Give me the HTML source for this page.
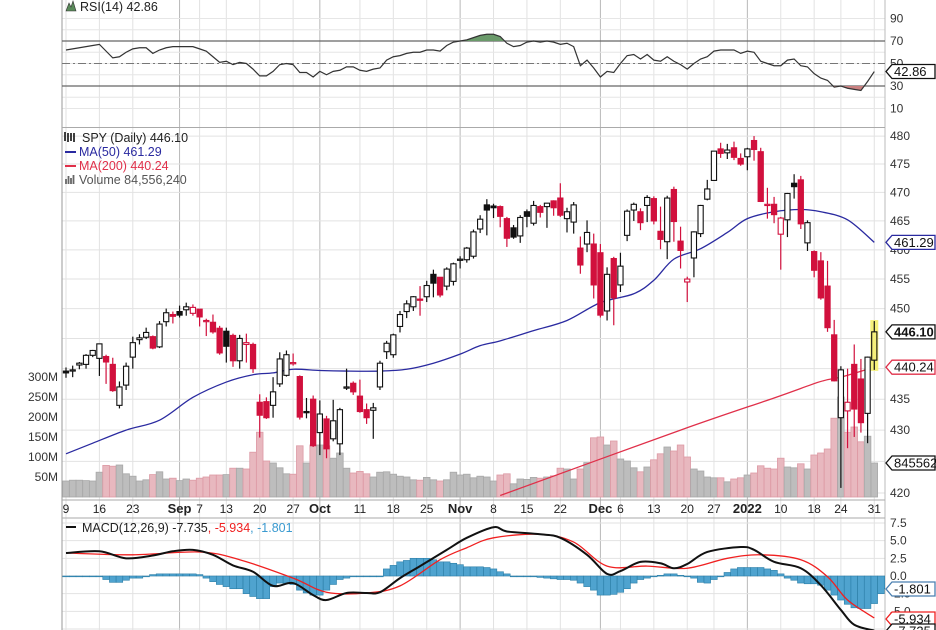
<!DOCTYPE html>
<html><head><meta charset="utf-8"><style>
body{margin:0;background:#fff;}
svg{display:block;font-family:"Liberation Sans",sans-serif;}
</style></head><body>
<svg id="c" width="936" height="630" viewBox="0 0 936 630"></svg>
<script>
// ---- data ----
const dateLabels=["9","16","23","Sep","7","13","20","27","Oct","11","18","25","Nov","8","15","22","Dec","6","13","20","27","2022","10","18","24","31"];
const dateIdx=[0,5,10,17,20,24,29,34,38,44,49,54,59,64,69,74,80,83,88,93,97,102,107,112,116,121];
const dateBold=[0,0,0,1,0,0,0,0,1,0,0,0,1,0,0,0,1,0,0,0,0,1,0,0,0,0];
const opens=[439.6,439.7,440.6,440.7,442.2,441.7,442.0,440.7,434.0,437.3,441.9,444.8,445.2,445.3,443.6,447.8,449.0,449.5,449.8,449.2,449.9,448.0,447.7,446.7,446.2,445.5,441.3,444.0,444.0,434.5,434.6,434.0,437.5,438.9,440.8,438.7,433.0,435.0,429.6,431.8,428.6,427.8,436.8,437.6,435.5,433.3,433.2,437.0,442.8,442.3,447.0,449.5,450.3,451.6,452.0,455.8,455.3,453.8,454.6,458.2,458.3,458.9,463.6,467.8,467.6,467.5,465.4,463.8,462.4,466.6,464.6,467.5,467.5,468.5,469.0,465.4,464.8,460.3,461.0,461.0,459.5,449.6,458.5,454.0,462.5,466.9,466.6,467.7,468.9,463.2,461.4,470.5,461.5,454.5,458.6,462.8,468.8,472.1,477.7,477.0,477.9,476.0,476.3,479.2,477.2,467.9,467.9,462.7,465.2,471.6,472.2,461.2,459.7,458.1,453.8,445.6,432.0,433.1,440.7,438.3,432.7,441.4];
const highs=[440.2,440.5,441.1,442.4,443.1,444.1,442.3,441.8,437.9,441.0,445.3,445.7,446.8,445.5,447.9,450.0,449.5,450.5,451.0,450.7,449.9,448.3,449.0,447.1,446.8,445.8,445.6,445.8,444.3,435.8,435.3,438.6,442.7,443.0,442.5,438.9,435.2,435.6,434.8,432.3,434.9,433.6,440.0,437.9,438.2,434.3,434.4,441.3,444.6,445.8,449.6,451.4,452.1,453.8,454.7,456.6,455.3,457.0,457.8,458.9,460.5,463.5,466.0,468.8,468.0,467.7,465.7,464.3,466.0,467.0,468.5,467.8,468.1,468.6,471.6,467.3,468.3,462.3,465.1,462.8,461.0,457.0,458.8,459.5,467.0,468.2,467.2,469.5,469.3,467.5,469.4,471.0,464.0,455.4,463.2,467.8,472.2,477.3,478.8,478.6,479.0,476.9,477.9,480.0,477.9,470.8,469.2,465.7,469.9,473.2,472.9,465.1,459.9,459.6,458.1,448.1,440.4,440.0,444.0,441.6,442.0,447.9];
const lows=[438.5,438.6,439.9,440.0,441.9,438.8,437.5,436.2,433.5,436.5,440.0,444.0,444.9,443.2,443.4,447.0,447.5,448.5,448.8,448.8,447.0,445.4,445.8,442.3,441.0,440.3,440.0,441.0,439.3,428.8,431.8,432.0,437.0,438.7,440.5,431.7,431.9,427.3,426.0,425.5,428.2,426.0,436.5,435.7,432.8,431.0,428.6,436.5,441.6,441.8,446.0,448.4,449.6,448.8,451.1,451.9,451.9,453.1,453.9,456.8,457.8,458.5,462.9,462.5,465.5,463.9,460.5,461.9,461.2,463.9,464.2,465.6,463.8,465.9,465.7,463.0,462.8,455.9,459.6,451.7,448.5,448.0,447.2,452.8,461.5,465.0,463.4,464.8,464.4,460.1,458.4,461.4,456.8,451.1,455.3,462.2,468.6,472.0,476.1,475.9,475.7,474.7,473.9,475.6,468.3,465.4,464.6,456.6,462.2,468.9,463.6,459.8,455.3,451.5,446.1,437.9,420.8,427.1,428.9,429.6,427.9,439.8];
const closes=[439.3,439.8,440.9,442.2,443.0,444.1,441.1,436.4,437.0,440.4,444.3,445.1,446.0,443.4,447.4,449.3,448.7,448.9,450.3,450.2,448.6,448.0,446.1,442.6,443.7,441.3,445.0,444.3,440.0,432.4,432.0,436.2,441.6,442.3,441.0,432.1,432.8,427.5,432.6,427.0,431.5,433.3,437.0,436.2,433.0,432.0,433.6,440.9,444.2,445.6,449.0,450.8,452.0,451.5,453.9,454.3,452.3,456.7,457.6,458.4,460.3,463.1,465.3,466.9,467.3,465.8,462.0,462.2,465.6,465.8,467.7,466.5,468.1,467.3,466.0,466.6,467.8,457.4,463.0,454.0,448.9,455.8,451.8,457.2,466.7,467.9,464.7,469.1,465.0,461.8,469.0,464.9,459.9,455.0,463.1,467.7,470.6,477.3,476.9,477.5,476.2,475.0,477.7,477.6,468.4,467.9,466.1,465.5,469.8,471.0,464.5,464.7,456.5,451.8,446.8,438.0,439.8,434.5,433.4,431.2,441.9,446.1];
const volumes=[40,42,42,41,40,62,79,77,80,58,52,40,43,56,63,45,47,41,45,42,47,50,55,55,56,72,72,70,112,162,90,85,73,58,57,128,85,130,130,128,97,110,72,60,64,58,50,62,63,57,52,50,43,42,49,43,40,43,62,55,57,48,52,50,40,55,58,33,45,44,49,47,50,53,72,70,45,70,86,148,150,130,140,95,90,73,63,75,93,108,125,115,130,100,70,65,50,48,48,38,45,48,55,60,78,72,70,97,75,73,83,70,105,110,120,197,250,162,175,138,152,85];
const ma50Idx=[0,4,9,14,19,24,28,31,34,38,42,47,51,55,59,62,65,70,75,80,85,88,91,95,99,102,106,110,113,117,121];
const ma50Val=[426.2,427.9,430.0,431.6,435.3,437.8,439.0,439.3,439.9,439.7,439.6,439.6,439.9,440.9,442.4,443.8,444.6,446.3,448.0,451.0,452.5,454.8,458.4,460.2,463.0,465.4,466.6,467.0,466.6,465.2,461.29];
const ma200Idx=[65,92,106,113,116,121];
const ma200Val=[419.6,430.0,435.2,437.9,438.6,440.24];
const rsi=[62,63,64,65,66,67,61,55,56,60,63,64,64,59,62,64,65,65,65,65,63,61,56,51,52,49,51,50,45,39,39,43,49,50,49,42,42,38,43,40,43,44,47,47,44,43,45,46,53,56,57,59,60,60,62,62,61,66,69,70,71,73,75,76,76,74,68,65,66,69,70,69,70,69,67,68,65,48,53,46,38,43,42,50,57,58,54,58,53,52,56,52,49,45,50,54,56,61,62,62,62,59,61,60,52,50,48,48,53,54,48,47,41,37,35,29,30,28,27,26,34,42.86];
const macdIdx=[0,5,9,13,16,19,22,25,28,31,34,37,39,42,45,47,50,53,57,60,64,66,71,74,78,81,83,86,89,91,93,96,101,103,106,110,113,116,118,121];
const macdVal=[3.25,3.5,2.5,2.9,3.5,3.7,3.0,1.5,0.6,-1.4,-1.0,-2.7,-3.4,-2.4,-2.4,-2.3,-0.3,1.4,3.7,5.4,6.9,6.3,5.9,5.4,3.0,0.3,0.7,2.0,1.8,1.1,1.7,3.4,4.1,3.7,2.0,1.1,-1.3,-4.8,-6.9,-7.735];
const sigIdx=[0,10,20,26,34,39,45,50,56,60,64,71,76,81,87,93,99,104,110,114,117,121];
const sigVal=[3.25,3.0,3.4,2.3,-0.3,-2.3,-2.4,-1.4,2.3,4.0,5.4,5.9,4.8,1.4,1.4,1.1,2.5,3.0,2.3,-0.1,-3.4,-5.934];
const hist=[0,0,0,0,0,0,-0.5,-0.9,-0.9,-0.6,-0.3,-0.3,0,0.2,0.3,0.3,0.3,0.3,0.3,0.3,0.2,-0.3,-0.8,-1.2,-1.5,-1.8,-1.8,-2.5,-2.9,-3.2,-3.2,-1.5,-1.0,-1.0,-1.2,-2.0,-2.4,-2.7,-2.7,-2.0,-1.2,-0.5,-0.3,0,0,0,0,0,1.0,1.5,2.0,2.2,2.5,2.5,2.5,2.3,2.0,2.0,1.8,1.6,1.3,1.3,1.3,1.2,1.0,0.6,0.3,0,0,-0.1,-0.1,-0.2,-0.3,-0.4,-0.5,-0.5,-0.6,-1.0,-1.5,-2.0,-2.7,-2.7,-2.6,-2.3,-1.8,-1.0,-0.5,-0.3,0,0.1,0.3,0.3,0.1,0,-0.3,-0.9,-1.0,-0.5,0,0.5,1.0,1.2,1.2,1.2,1.2,1.0,0.8,0.3,-0.3,-0.6,-1.0,-1.1,-1.1,-1.3,-2.0,-2.7,-3.4,-4.0,-4.5,-4.6,-4.6,-3.9,-2.5,-1.801];
const priceTicks=[480,475,470,465,460,455,450,445,440,435,430,425,420];
const priceTickShown=[480,475,470,465,460,455,450,435,430,420];
const rsiTicks=[90,70,50,30,10];
const volTicks=[300,250,200,150,100,50];
const macdTicks=[7.5,5.0,2.5,0.0,-2.5,-5.0];

// ---- scales ----
const X0=66, DX=6.68, L=62, R=885;
const xs=i=>X0+i*DX;
const yP=p=>493-2673*Math.log(p/420);
const yR=v=>63.5-(v-50)*1.125;
const yV=v=>497-v*0.4;
const yM=v=>576-v*7.07;
const svg=document.getElementById('c');
const NS='http://www.w3.org/2000/svg';
function mk(tag,attrs,parent){const e=document.createElementNS(NS,tag);for(const k in attrs)e.setAttribute(k,attrs[k]);(parent||svg).appendChild(e);return e;}
function tx(str,x,y,attrs,parent){const e=mk('text',Object.assign({x:x,y:y,'font-size':12,fill:'#222'},attrs||{}),parent);e.textContent=str;return e;}
// smooth path through points (Catmull-Rom)
function smooth(pts){
  let d='M'+pts[0][0]+','+pts[0][1];
  for(let i=0;i<pts.length-1;i++){
    const p0=pts[i-1]||pts[i],p1=pts[i],p2=pts[i+1],p3=pts[i+2]||p2;
    const c1x=p1[0]+(p2[0]-p0[0])/6,c1y=p1[1]+(p2[1]-p0[1])/6;
    const c2x=p2[0]-(p3[0]-p1[0])/6,c2y=p2[1]-(p3[1]-p1[1])/6;
    d+=' C'+c1x+','+c1y+' '+c2x+','+c2y+' '+p2[0]+','+p2[1];
  }
  return d;
}

// clip paths
const defs=mk('defs',{});
const cp1=mk('clipPath',{id:'cpP'},defs);mk('rect',{x:L,y:128,width:R-L,height:372},cp1);
const cp2=mk('clipPath',{id:'cpM'},defs);mk('rect',{x:L,y:518,width:R-L,height:112},cp2);
const cp3=mk('clipPath',{id:'cpHi'},defs);mk('rect',{x:L,y:0,width:R-L,height:41},cp3);
const cp4=mk('clipPath',{id:'cpLo'},defs);mk('rect',{x:L,y:86,width:R-L,height:41},cp4);

// ---- grids ----
const grid=mk('g',{});


dateIdx.forEach((d,k)=>{
  const x=xs(d);
  const ln=mk('line',{x1:x,x2:x,y1:0,y2:630,stroke:dateBold[k]?'#b8b8b8':'#e2e2e2','stroke-width':1},grid);
  
  
});
for(let v=10;v<=90;v+=10){const y=yR(v);mk('line',{x1:L,x2:R,y1:y,y2:y,stroke:'#e6e6e6'},grid);}
priceTicks.forEach(p=>{const y=yP(p);mk('line',{x1:L,x2:R,y1:y,y2:y,stroke:'#e2e2e2'},grid);});
for(let v=-7.5;v<=7.5;v+=2.5){const y=yM(v);if(y>518&&y<630)mk('line',{x1:L,x2:R,y1:y,y2:y,stroke:'#e2e2e2'},grid);}

// panel borders
mk('line',{x1:L,x2:L,y1:0,y2:630,stroke:'#9a9a9a'});
mk('line',{x1:R,x2:R,y1:0,y2:630,stroke:'#bbb'});
mk('line',{x1:L,x2:R,y1:127.5,y2:127.5,stroke:'#aaa'});
mk('line',{x1:L,x2:R,y1:500,y2:500,stroke:'#aaa'});
mk('line',{x1:L,x2:R,y1:518,y2:518,stroke:'#aaa'});

// ---- RSI panel ----
const rsiG=mk('g',{});


mk('line',{x1:L,x2:R,y1:yR(70),y2:yR(70),stroke:'#666','stroke-width':1.2},rsiG);
mk('line',{x1:L,x2:R,y1:yR(30),y2:yR(30),stroke:'#666','stroke-width':1.2},rsiG);
mk('line',{x1:L,x2:R,y1:yR(50),y2:yR(50),stroke:'#777','stroke-dasharray':'8,3,2,3'},rsiG);
let rp=rsi.map((v,i)=>xs(i)+','+yR(v)).join(' ');
const hiFill=mk('polygon',{points:xs(0)+','+yR(70)+' '+rp+' '+xs(rsi.length-1)+','+yR(70),fill:'#6a9a6a','clip-path':'url(#cpHi)'},rsiG);


const loFill=mk('polygon',{points:xs(0)+','+yR(30)+' '+rp+' '+xs(rsi.length-1)+','+yR(30),fill:'#c98080','clip-path':'url(#cpLo)'},rsiG);


const rsiLine=mk('polyline',{points:rp,fill:'none',stroke:'#333','stroke-width':1.2},rsiG);


rsiTicks.forEach(v=>{const t=tx(String(v),890,yR(v)+4,{'font-size':12,fill:'#333'});
  
  });

// ---- volume ----
const volG=mk('g',{'clip-path':'url(#cpP)'});


volumes.forEach((v,i)=>{
  const down=i>0&&closes[i]<closes[i-1];
  const b=mk('rect',{x:xs(i)-3.3,y:yV(v),width:6.6,height:497-yV(v),fill:down?'#e8b8bf':'#bdbdbd',stroke:down?'#dd9aa5':'#a8a8a8','stroke-width':0.8},volG);
  
  
});
volTicks.forEach(v=>{const t=tx(v+'M',58,yV(v)+4,{'text-anchor':'end',fill:'#333'});
  
  });

// ---- moving averages ----
const ma50=mk('path',{d:smooth(ma50Idx.map((d,k)=>[xs(d),yP(ma50Val[k])])),fill:'none',stroke:'#2a2aa0','stroke-width':1.3,'clip-path':'url(#cpP)'});


const ma200=mk('path',{d:smooth(ma200Idx.map((d,k)=>[xs(d),yP(ma200Val[k])])),fill:'none',stroke:'#e0304a','stroke-width':1.3,'clip-path':'url(#cpP)'});



// highlight of last candle
const last=closes.length-1;
const hl=mk('rect',{x:xs(last)-4,y:yP(highs[last])-1,width:8,height:yP(lows[last])-yP(highs[last])+2,fill:'#f5f07a'});



// ---- candles ----
const cG=mk('g',{'clip-path':'url(#cpP)'});


closes.forEach((c,i)=>{
  const o=opens[i];
  const down=i>0&&c<closes[i-1];
  const col=down?'#d1103d':'#111';
  const x=xs(i);
  const g=mk('g',{},cG);
  
  
  mk('line',{x1:x,x2:x,y1:yP(highs[i]),y2:yP(lows[i]),stroke:col,'stroke-width':1.2},g);
  const top=yP(Math.max(o,c)), bot=yP(Math.min(o,c));
  const h=Math.max(bot-top,1.2);
  const hollow=c>=o;
  const fill=hollow?(i===last?'#f5f07a':'#fff'):col;
  mk('rect',{x:x-2.6,y:top,width:5.2,height:h,fill:fill,stroke:col,'stroke-width':1.1},g);
});

// price axis labels
priceTickShown.forEach(p=>{const t=tx(String(p),890,yP(p)+4,{fill:'#333'});
  
  });

// ---- date labels ----
dateLabels.forEach((s,k)=>{
  const t=tx(s,xs(dateIdx[k]),513,{'text-anchor':'middle','font-weight':dateBold[k]?'bold':'normal','font-size':dateBold[k]?13:12,fill:'#222'});
  
  
});

// ---- MACD ----
const mG=mk('g',{'clip-path':'url(#cpM)'});


hist.forEach((v,i)=>{
  const y0=yM(0),y1=yM(v);
  const b=mk('rect',{x:xs(i)-3.3,y:Math.min(y0,y1),width:6.6,height:Math.max(Math.abs(y1-y0),0.8),fill:'#4fa3cf',stroke:'#2c7fa8','stroke-width':0.6},mG);
  
  
});
const sig=mk('path',{d:smooth(sigIdx.map((d,k)=>[xs(d),yM(sigVal[k])])),fill:'none',stroke:'#f02020','stroke-width':1.3},mG);


const mac=mk('path',{d:smooth(macdIdx.map((d,k)=>[xs(d),yM(macdVal[k])])),fill:'none',stroke:'#111','stroke-width':2},mG);


macdTicks.forEach(v=>{const t=tx(v.toFixed(1),890,yM(v)+4,{fill:'#333'});
  
  });

// ---- value tags ----
function tag(str,y,color,bold,name){
  const g=mk('g',{});
  
  
  mk('path',{d:'M886,'+y+' l6,-7 h43 v14 h-43 z',fill:'#fff',stroke:color,'stroke-width':1.3},g);
  tx(str,894,y+4.5,{fill:'#111','font-size':13,'font-weight':bold?'bold':'normal'},g);
}
tag('42.86',yR(42.86),'#111',false,'rsi-value-tag');
tag('461.29',yP(461.29),'#2a2aa0',false,'ma50-value-tag');
tag('446.10',yP(446.10),'#111',true,'price-value-tag');
tag('440.24',yP(440.24),'#e0304a',false,'ma200-value-tag');
tag('845562',463,'#111',false,'volume-value-tag');
tag('-1.801',589,'#4a7fb0',false,'macd-hist-value-tag');
tag('-5.934',619,'#f02020',false,'macd-signal-value-tag');
tag('-7.735',631,'#111',false,'macd-value-tag');

// ---- legends ----
function leg(parts,x,y,name){
  const t=mk('text',{x:x,y:y,'font-size':12.5},svg);
  
  
  parts.forEach(p=>{const s=mk('tspan',{fill:p[1]},t);s.textContent=p[0];});
}
mk('path',{d:'M66,11 l3,-8 l2,4 l2,-6 l3,10 z',fill:'#5a8a5a',stroke:'#333','stroke-width':0.6});
leg([['RSI(14) 42.86','#222']],80,11,'rsi-legend');
mk('path',{d:'M65,141 v-9 M68,142 v-9 M71,141 v-8 M74,142 v-9',stroke:'#111','stroke-width':1.6});
leg([['SPY (Daily) 446.10','#222']],82,142,'price-legend');
mk('line',{x1:65,x2:76,y1:152,y2:152,stroke:'#2a2aa0','stroke-width':2});
leg([['MA(50) 461.29','#2a2aa0']],79,156,'ma50-legend');
mk('line',{x1:65,x2:76,y1:166,y2:166,stroke:'#e0304a','stroke-width':2});
leg([['MA(200) 440.24','#e0304a']],79,170,'ma200-legend');
mk('path',{d:'M66,184 v-5 M68.5,184 v-8 M71,184 v-6 M73.5,184 v-9',stroke:'#666','stroke-width':1.8});
leg([['Volume 84,556,240','#555']],79,184,'volume-legend');
mk('line',{x1:66,x2:76,y1:527,y2:527,stroke:'#111','stroke-width':2});
leg([['MACD(12,26,9) -7.735','#222'],[', -5.934','#f02020'],[', -1.801','#3a9ad0']],82,532,'macd-legend');
</script>
</body></html>
